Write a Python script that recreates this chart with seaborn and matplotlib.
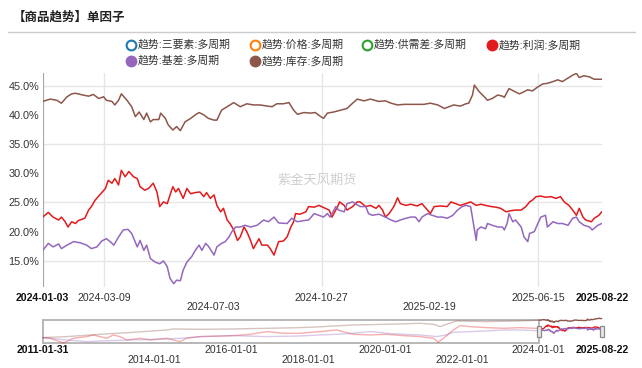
import pandas as pd
import matplotlib
matplotlib.use("Agg")
import matplotlib.pyplot as plt
import matplotlib.dates as mdates
import matplotlib.transforms as mtransforms
from matplotlib.lines import Line2D
from matplotlib.patches import Rectangle
import seaborn as sns

sns.set_theme(style="white")
plt.rcParams['font.family'] = ['Liberation Sans', 'Noto Sans CJK SC', 'DejaVu Sans']

# ---- data: main window (day offset from 2024-01-03, value in %) ----
start_date = '2024-01-03'
end_date = '2025-08-22'

brown_day = [0, 8, 15, 20, 26, 31, 35, 43, 49, 54, 60, 65, 68, 74, 77, 81, 84, 90, 95, 99,
             103, 108, 111, 115, 118, 124, 126, 131, 134, 139, 143, 147, 152, 158, 163, 167, 172, 177, 183, 186,
             191, 197, 204, 211, 218, 225, 232, 240, 245, 250, 257, 263, 268, 272, 279, 286, 291, 297, 300, 304,
             311, 318, 325, 331, 336, 343, 350, 359, 366, 372, 379, 386, 397, 407, 414, 422, 429, 434, 439, 446,
             452, 455, 459, 461, 466, 471, 475, 480, 486, 491, 493, 498, 504, 509, 512, 518, 523, 528, 534, 539,
             545, 550, 555, 561, 566, 570, 573, 578, 584, 589, 597]
brown_val = [42.3, 42.7, 42.5, 42.0, 43.1, 43.6, 43.7, 43.4, 43.2, 43.5, 42.8, 43.1, 42.5, 42.3, 41.7, 42.5, 43.6, 42.5, 41.4, 39.7,
             40.5, 39.2, 40.3, 38.8, 39.2, 39.2, 40.3, 39.4, 38.3, 37.4, 38.0, 37.3, 38.8, 39.4, 40.0, 40.4, 40.0, 39.4, 39.1, 39.1,
             40.8, 41.4, 42.1, 41.4, 41.9, 41.7, 41.7, 41.5, 41.4, 41.9, 41.9, 42.1, 40.8, 40.1, 40.4, 40.3, 40.4, 39.7, 39.4, 40.3,
             40.5, 40.8, 41.1, 42.0, 42.7, 42.4, 42.7, 42.3, 42.4, 42.0, 41.7, 41.8, 41.8, 41.8, 42.0, 41.7, 41.1, 41.4, 41.7, 41.5,
             41.9, 42.0, 43.4, 45.1, 44.0, 43.2, 42.5, 42.8, 43.4, 43.2, 43.0, 44.5, 44.0, 43.6, 43.8, 44.3, 44.1, 44.7, 45.3, 45.4,
             45.7, 46.0, 45.7, 46.3, 46.8, 47.1, 46.4, 46.7, 46.5, 46.1, 46.1]

red_day = [0, 6, 11, 17, 20, 24, 27, 31, 35, 38, 45, 49, 52, 56, 61, 67, 70, 74, 77, 81,
           84, 88, 92, 97, 101, 104, 109, 113, 118, 122, 125, 129, 133, 136, 139, 142, 145, 150, 154, 158,
           163, 168, 172, 175, 179, 183, 186, 190, 193, 197, 200, 204, 208, 211, 215, 218, 222, 225, 231, 234,
           240, 243, 247, 252, 257, 261, 265, 268, 270, 275, 281, 284, 290, 295, 302, 306, 309, 315, 317, 322,
           325, 331, 336, 339, 345, 350, 356, 359, 363, 366, 370, 375, 379, 382, 388, 393, 400, 405, 411, 414,
           418, 425, 432, 436, 441, 446, 452, 457, 463, 468, 473, 479, 484, 489, 495, 500, 505, 511, 516, 520,
           523, 527, 532, 537, 543, 548, 553, 557, 562, 566, 570, 573, 577, 580, 586, 589, 594, 597]
red_val = [22.5, 23.3, 22.5, 22.0, 22.5, 21.7, 20.8, 21.7, 21.4, 21.9, 22.3, 23.7, 24.3, 25.4, 26.3, 27.4, 28.8, 28.3, 29.1, 28.0,
           30.5, 29.4, 30.3, 29.4, 29.1, 27.7, 27.1, 27.4, 28.3, 26.8, 24.3, 25.1, 24.8, 26.3, 27.7, 26.8, 27.4, 25.7, 27.4, 26.5,
           26.7, 26.8, 26.0, 26.7, 25.7, 26.3, 24.5, 23.4, 24.0, 22.0, 21.4, 20.3, 18.5, 19.1, 20.8, 20.0, 18.5, 17.1, 18.8, 17.7,
           17.7, 17.1, 16.0, 18.3, 18.4, 19.1, 20.8, 21.7, 23.1, 23.0, 23.4, 24.3, 24.2, 24.5, 24.0, 23.7, 22.5, 24.3, 25.1, 24.5,
           23.7, 24.3, 25.1, 25.1, 24.3, 24.5, 24.0, 24.5, 23.7, 22.5, 23.1, 24.3, 25.8, 24.8, 24.5, 24.7, 24.4, 24.8, 23.7, 23.1,
           24.3, 24.4, 24.3, 25.1, 24.8, 24.5, 24.8, 25.1, 24.5, 24.7, 24.5, 24.3, 24.2, 24.0, 23.4, 23.6, 23.7, 23.7, 24.3, 25.1,
           25.4, 26.0, 26.1, 25.9, 26.0, 25.7, 26.0, 25.1, 24.5, 23.7, 22.8, 24.0, 22.5, 22.0, 21.7, 22.3, 22.8, 23.4]

purple_day = [0, 6, 11, 17, 20, 26, 33, 40, 47, 52, 58, 63, 68, 72, 76, 81, 86, 91, 95, 101,
              104, 108, 111, 115, 120, 125, 129, 133, 136, 140, 143, 147, 150, 154, 159, 163, 167, 170, 174, 177,
              183, 186, 191, 195, 199, 202, 206, 211, 216, 222, 229, 236, 241, 247, 252, 261, 266, 272, 279, 284,
              290, 295, 300, 304, 307, 313, 316, 322, 325, 331, 334, 339, 345, 348, 352, 359, 366, 372, 377, 382,
              388, 393, 398, 402, 405, 411, 416, 422, 427, 432, 438, 443, 448, 452, 457, 460, 463, 464, 468, 473,
              475, 480, 486, 491, 493, 496, 498, 502, 505, 511, 514, 518, 520, 525, 528, 532, 537, 539, 545, 550,
              555, 561, 566, 570, 573, 578, 584, 587, 593, 597]
purple_val = [16.8, 18.0, 17.4, 17.9, 17.1, 17.7, 18.3, 18.1, 17.7, 17.1, 17.4, 18.4, 18.8, 18.3, 17.7, 19.1, 20.3, 20.4, 19.7, 17.4,
              18.5, 16.8, 17.7, 15.4, 14.8, 14.5, 15.0, 14.0, 12.0, 11.1, 11.7, 11.6, 13.4, 14.8, 15.7, 16.8, 17.7, 16.8, 18.0, 17.5,
              16.0, 17.4, 18.0, 18.3, 19.1, 20.0, 20.8, 20.8, 21.1, 20.8, 21.1, 22.0, 21.7, 22.5, 21.5, 21.4, 22.3, 21.7, 21.9, 22.0,
              23.1, 22.8, 22.5, 23.1, 22.5, 24.3, 23.7, 23.4, 24.8, 25.1, 24.8, 24.3, 24.3, 23.1, 22.8, 23.0, 22.5, 22.0, 21.7, 22.0,
              22.3, 22.5, 22.5, 21.7, 22.5, 23.1, 22.8, 22.5, 22.5, 22.3, 22.8, 23.7, 24.3, 24.5, 24.3, 21.4, 18.5, 20.3, 20.8, 20.5,
              21.4, 21.1, 20.8, 20.8, 20.3, 21.4, 23.1, 21.7, 22.0, 20.8, 19.1, 18.3, 19.7, 20.0, 21.1, 22.5, 22.8, 20.8, 21.7, 21.4,
              21.4, 21.1, 22.3, 22.5, 21.7, 21.1, 20.8, 20.3, 21.1, 21.4]

# ---- data: history shown in the slider (value in %) ----
nav_start = '2011-01-31'
nav_sel_start = '2024-01-01'

hist_brown_date = ['2011-01-31', '2011-09-16', '2012-07-28', '2013-06-11', '2014-04-24', '2014-06-25', '2015-03-08',
                   '2016-01-19', '2016-12-03', '2017-10-13', '2018-04-21', '2019-03-04', '2020-01-16', '2020-11-29',
                   '2021-04-05', '2021-06-07', '2021-08-06', '2021-11-13', '2022-08-25', '2023-07-07', '2024-01-02']
hist_brown_val = [0.6, 3.0, 8.5, 13.3, 18.9, 21.3, 20.5, 21.3, 22.9, 24.5, 26.5, 30.9, 32.5, 34.9,
                  32.5, 26.9, 32.5, 40.5, 38.9, 40.5, 42.3]

hist_red_date = ['2011-01-31', '2011-04-10', '2011-07-14', '2011-08-15', '2011-11-18', '2012-03-26', '2012-05-26',
                 '2012-07-28', '2012-10-01', '2012-12-02', '2013-02-03', '2013-04-10', '2013-08-13', '2013-11-18',
                 '2014-04-24', '2014-06-25', '2014-08-30', '2014-10-31', '2015-03-08', '2016-01-19', '2016-06-25',
                 '2016-12-03', '2017-05-08', '2017-10-13', '2018-04-21', '2018-09-28', '2019-03-04', '2019-08-12',
                 '2020-01-16', '2020-06-21', '2020-11-29', '2021-04-05', '2021-05-22', '2021-07-08', '2021-10-11',
                 '2021-12-13', '2022-03-17', '2022-08-25', '2023-01-31', '2023-07-07', '2024-01-02']
hist_red_val = [0.6, -1.0, -9.0, -12.5, -1.0, 3.0, 7.0, 3.0, -1.0, 7.0, 3.0, -5.0, -1.0, -5.0,
                -1.0, -5.0, -9.0, -1.0, 3.0, 5.4, 8.5, 15.0, 11.0, 11.0, 15.0, 18.9, 8.5, 7.0,
                8.5, 5.4, 3.0, -1.0, -10.6, -1.0, 18.9, 29.3, 26.9, 24.5, 22.9, 24.5, 22.5]

hist_purple_date = ['2011-01-31', '2011-09-16', '2012-03-26', '2012-07-28', '2013-06-11', '2014-04-24', '2014-08-30',
                    '2015-03-08', '2016-01-19', '2016-12-03', '2017-10-13', '2018-04-21', '2018-09-28', '2019-03-04',
                    '2019-08-12', '2020-01-16', '2020-06-21', '2020-11-29', '2021-05-04', '2021-08-06', '2021-10-11',
                    '2022-03-17', '2022-08-25', '2023-01-31', '2023-07-07', '2024-01-02']
hist_purple_val = [0.6, -5.0, -9.0, -7.4, -5.0, -2.6, -1.0, 3.0, 5.4, 3.0, 4.6, 7.0, 8.5, 11.0,
                   15.0, 11.0, 8.5, 7.0, 3.0, 7.0, 13.3, 15.0, 16.5, 18.9, 18.9, 17.0]

legend_labels = ['趋势:三要素:多周期', '趋势:价格:多周期', '趋势:供需差:多周期',
                 '趋势:利润:多周期', '趋势:基差:多周期', '趋势:库存:多周期']
legend_colors = ['#1f77b4', '#ff7f0e', '#2ca02c', '#e31a1c', '#9467bd', '#8c564b']
legend_filled = [False, False, False, True, True, True]

y_ticks = [15, 20, 25, 30, 35, 40, 45]
x_ticks = ['2024-01-03', '2024-03-09', '2024-07-03', '2024-10-27', '2025-02-19', '2025-06-15', '2025-08-22']
x_tick_row = [0, 0, 1, 0, 1, 0, 0]
nav_ticks = ['2011-01-31', '2014-01-01', '2016-01-01', '2018-01-01', '2020-01-01', '2022-01-01',
             '2024-01-01', '2025-08-22']
nav_tick_row = [0, 1, 0, 1, 0, 1, 0, 0]
vgrid_dates = ['2024-03-09', '2024-10-27', '2025-06-15']
hgrid_vals = [15, 25, 35, 45]

RED, PURPLE, BROWN = '#e31a1c', '#9467bd', '#8c564b'
t0 = pd.Timestamp(start_date)


def day_dates(days):
    return t0 + pd.to_timedelta(days, unit='D')


W, H = 642, 368
fig = plt.figure(figsize=(W / 100, H / 100), dpi=100)

# ---- main chart ----
ax = fig.add_axes([42.7 / W, 1 - 286.7 / H, 559 / W, 213.7 / H])
for d in vgrid_dates:
    ax.axvline(pd.Timestamp(d), color='#e6e6e6', lw=1, zorder=0)
for v in hgrid_vals:
    ax.axhline(v, color='#e6e6e6', lw=1, zorder=0)
ax.axvline(t0, color='#a8a8a8', lw=1.6, zorder=1)

sns.lineplot(x=day_dates(brown_day), y=brown_val, color=BROWN, lw=1.1, ax=ax, estimator=None)
sns.lineplot(x=day_dates(red_day), y=red_val, color=RED, lw=1.1, ax=ax, estimator=None)
sns.lineplot(x=day_dates(purple_day), y=purple_val, color=PURPLE, lw=1.1, ax=ax, estimator=None)

ax.set_xlim(t0, pd.Timestamp(end_date))
ax.set_ylim(10.58, 47.17)
for s in ax.spines.values():
    s.set_visible(False)
ax.set_xlabel('')
ax.set_ylabel('')
ax.set_yticks(y_ticks)
ax.set_yticklabels([f'{v:.1f}%' for v in y_ticks])
ax.tick_params(axis='y', length=0, pad=2.5, labelsize=7.8, labelcolor='#333333')
ax.tick_params(axis='x', length=0, labelsize=7.6, labelcolor='#333333')
ax.set_xticks([pd.Timestamp(d) for d in x_ticks])
ax.set_xticklabels(x_ticks)
for i, (tk, lab) in enumerate(zip(ax.xaxis.get_major_ticks(), ax.get_xticklabels())):
    tk.set_pad(4.2 if x_tick_row[i] == 0 else 11.3)
    if i in (0, len(x_ticks) - 1):
        lab.set_fontweight('bold')
        lab.set_color('#111111')

ax.text(317 / W, 1 - 180 / H, '紫金天风期货', transform=fig.transFigure, ha='center', va='center',
        fontsize=9.5, color='#cfcfcf', family=['Noto Sans CJK SC'])

# ---- header ----
fig.text(13 / W, 1 - 17 / H, '【商品趋势】单因子', fontsize=9, fontweight='bold', va='center',
         color='#222222', family=['Noto Sans CJK SC'])
fig.add_artist(Line2D([8 / W, 635 / W], [1 - 32 / H, 1 - 32 / H], color='#cccccc', lw=1,
                      transform=fig.transFigure))

leg_pos = [(131, 45), (255, 45), (367, 45), (492, 45), (131, 61), (255, 61)]
for (px, py), lab, col, filled in zip(leg_pos, legend_labels, legend_colors, legend_filled):
    fig.add_artist(Line2D([px / W], [1 - py / H], marker='o', ms=7, mew=1.5, mec=col,
                          mfc=col if filled else 'white', transform=fig.transFigure))
    fig.text((px + 7) / W, 1 - py / H, lab, fontsize=7.8, va='center', color='#333333')

# ---- slider ----
nav = fig.add_axes([42.7 / W, 1 - 343.3 / H, 559 / W, 23.6 / H])
sns.lineplot(x=pd.to_datetime(hist_brown_date), y=hist_brown_val, color=BROWN, alpha=0.35, lw=1, ax=nav, estimator=None)
sns.lineplot(x=pd.to_datetime(hist_red_date), y=hist_red_val, color=RED, alpha=0.35, lw=1, ax=nav, estimator=None)
sns.lineplot(x=pd.to_datetime(hist_purple_date), y=hist_purple_val, color=PURPLE, alpha=0.35, lw=1, ax=nav, estimator=None)
sns.lineplot(x=day_dates(brown_day), y=brown_val, color=BROWN, lw=1, ax=nav, estimator=None)
sns.lineplot(x=day_dates(red_day), y=red_val, color=RED, lw=1, ax=nav, estimator=None)
sns.lineplot(x=day_dates(purple_day), y=purple_val, color=PURPLE, lw=1, ax=nav, estimator=None)
nav.set_xlim(pd.Timestamp(nav_start), pd.Timestamp(end_date))
nav.set_ylim(-13, 43.5)
for s in nav.spines.values():
    s.set_visible(False)
nav.set_xlabel('')
nav.set_ylabel('')
nav.set_yticks([])
for ln in nav.get_lines():
    ln.set_clip_on(False)

bt = mtransforms.blended_transform_factory(nav.transData, nav.transAxes)
x_a = mdates.date2num(pd.Timestamp(nav_start))
x_b = mdates.date2num(pd.Timestamp(nav_sel_start))
x_c = mdates.date2num(pd.Timestamp(end_date))
nav.add_patch(Rectangle((x_a, 0), x_b - x_a, 1, fill=False, edgecolor='#b8b8b8', lw=1.4,
                        transform=bt, clip_on=False))
for xc in (x_b, x_c):
    nav.add_patch(Rectangle((xc - 18, 0.25), 36, 0.48, facecolor='#e8e8e8', edgecolor='#8a8a8a', lw=0.9,
                            transform=bt, clip_on=False, zorder=5))

nav.tick_params(axis='x', length=0, labelsize=7.6, labelcolor='#333333')
nav.set_xticks([pd.Timestamp(d) for d in nav_ticks])
nav.set_xticklabels(nav_ticks)
for i, (tk, lab) in enumerate(zip(nav.xaxis.get_major_ticks(), nav.get_xticklabels())):
    tk.set_pad(1.2 if nav_tick_row[i] == 0 else 8.2)
    if i in (0, len(nav_ticks) - 1):
        lab.set_fontweight('bold')
        lab.set_color('#111111')

fig.savefig('out.png', dpi=100)
